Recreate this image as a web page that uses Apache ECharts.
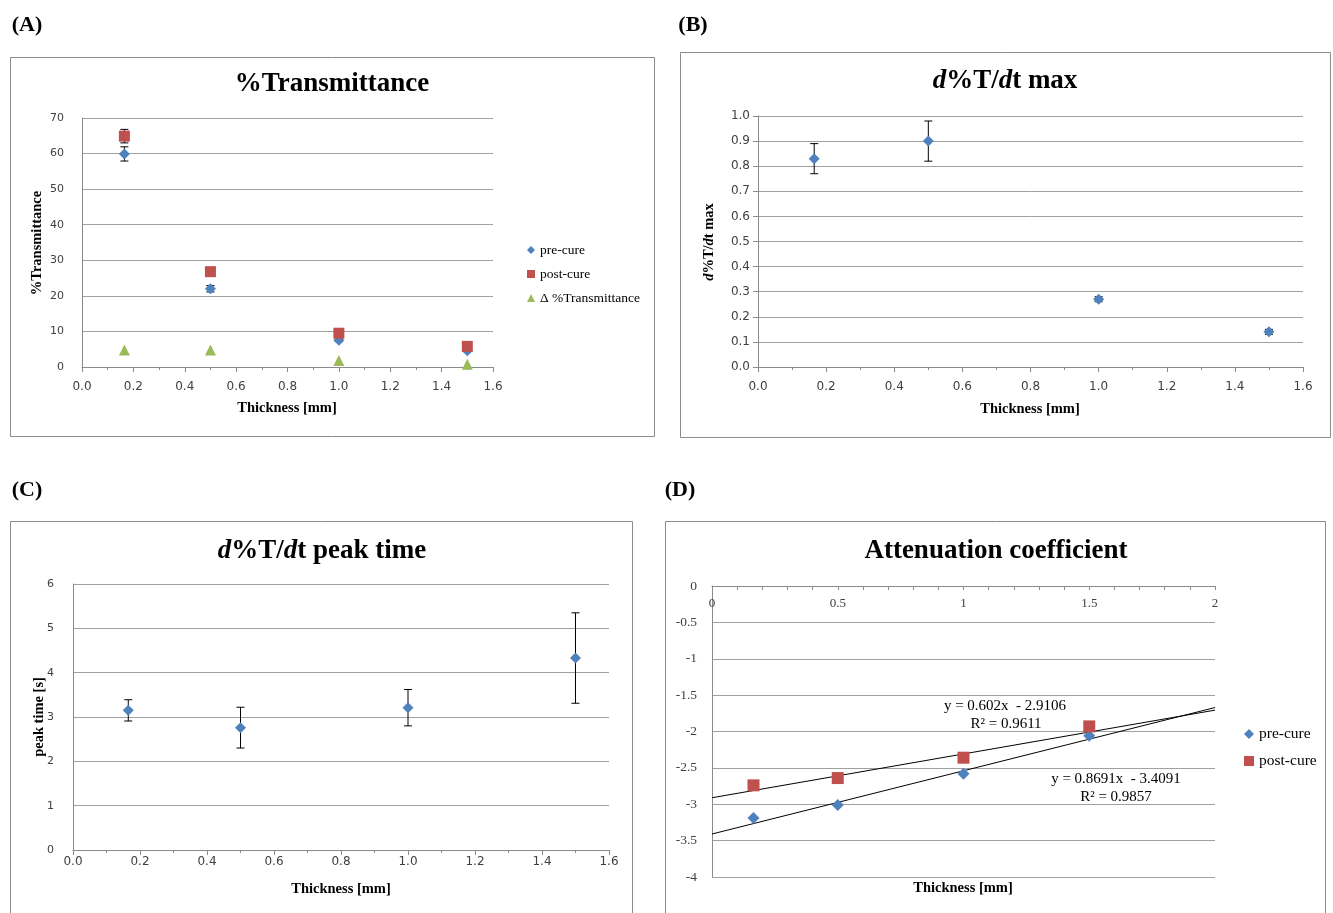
<!DOCTYPE html>
<html>
<head>
<meta charset="utf-8">
<script src="https://cdn.jsdelivr.net/npm/echarts@6/dist/echarts.min.js"></script>
<style>
html, body { margin: 0; padding: 0; background: #fff; }
#chart { width: 1333px; height: 913px; }
</style>
</head>
<body>
<div id="chart"></div>
<script>
// thickness of the samples [mm]
const thickness = [0.165, 0.5, 1.0, 1.5];

// (A) %Transmittance
const transPre = [59.9, 22.0, 7.5, 4.6];
const transPreErr = [2.0, 0.9, 0.4, 0.3];
const transPost = [64.9, 26.8, 9.5, 5.8];
const transPostErr = [1.9, 0.5, 0.4, 0.3];
const transDelta = [4.8, 4.8, 1.8, 0.8];

// (B) d%T/dt max
const slopeMax = [0.83, 0.90, 0.27, 0.14];
const slopeMaxErr = [0.06, 0.08, 0.01, 0.01];

// (C) d%T/dt peak time [s]
const peakTime = [3.15, 2.76, 3.21, 4.33];
const peakTimeErr = [0.24, 0.46, 0.41, 1.02];

// (D) attenuation coefficient (ln)
const attPre = [-3.19, -3.01, -2.58, -2.06];
const attPost = [-2.74, -2.64, -2.36, -1.93];
// trend lines (end points, from the fitted equations shown)
const attPreTrend = [[0, -3.4091], [2, -1.6709]];
const attPostTrend = [[0, -2.9106], [2, -1.7066]];

const serif = '"Liberation Serif", "Times New Roman", serif';
const sans = '"DejaVu Sans", sans-serif';
const gridGray = '#a0a0a0';
const axisGray = '#8a8a8a';
const blue = '#4F81BD';
const red = '#C0504D';
const green = '#9BBB59';

const chart = echarts.init(document.getElementById('chart'));

// x axis 0 - 1.6 for panels A, B, C
function thickAxis(grid, margin) {
  return {
    type: 'value', gridIndex: grid, min: 0, max: 1.6, interval: 0.2,
    axisLine: { show: true, onZero: false, lineStyle: { color: axisGray } },
    axisTick: { show: true, length: 5, lineStyle: { color: axisGray } },
    minorTick: { show: true, splitNumber: 2, length: 3, lineStyle: { color: axisGray } },
    axisLabel: { fontFamily: sans, fontSize: 12, color: '#404040', margin: margin,
      formatter: v => v.toFixed(1) },
    splitLine: { show: false }
  };
}

function valueAxis(grid, min, max, step, digits, margin, size, ticks) {
  return {
    type: 'value', gridIndex: grid, min: min, max: max, interval: step,
    axisLine: { show: true, lineStyle: { color: axisGray } },
    axisTick: { show: ticks, length: 5, lineStyle: { color: axisGray } },
    axisLabel: { fontFamily: sans, fontSize: size, color: '#404040', margin: margin,
      formatter: v => v.toFixed(digits) },
    splitLine: { show: true, lineStyle: { color: gridGray } }
  };
}

// vertical error bars with caps
function errorBars(name, ys, errs, idx) {
  return {
    name: name,
    type: 'custom',
    xAxisIndex: idx,
    yAxisIndex: idx,
    z: 2,
    silent: true,
    renderItem: function (params, api) {
      const top = api.coord([api.value(0), api.value(2)]);
      const bot = api.coord([api.value(0), api.value(1)]);
      const w = 4;
      const st = { stroke: '#000', lineWidth: 1 };
      return {
        type: 'group',
        children: [
          { type: 'line', shape: { x1: top[0], y1: top[1], x2: bot[0], y2: bot[1] }, style: st },
          { type: 'line', shape: { x1: top[0] - w, y1: top[1], x2: top[0] + w, y2: top[1] }, style: st },
          { type: 'line', shape: { x1: bot[0] - w, y1: bot[1], x2: bot[0] + w, y2: bot[1] }, style: st }
        ]
      };
    },
    encode: { x: 0, y: [1, 2] },
    data: thickness.map((x, i) => [x, ys[i] - errs[i], ys[i] + errs[i]])
  };
}

function dots(name, ys, idx, symbol, size, color) {
  return {
    name: name,
    type: 'scatter',
    xAxisIndex: idx,
    yAxisIndex: idx,
    z: 3,
    symbol: symbol,
    symbolSize: size,
    itemStyle: { color: color, opacity: 1 },
    emphasis: { disabled: true },
    data: thickness.map((x, i) => [x, ys[i]])
  };
}

function txt(x, y, text, size, opts) {
  opts = opts || {};
  return {
    type: 'text', x: x, y: y, rotation: opts.rotation || 0, z: 10,
    style: {
      text: text, fontFamily: serif, fontSize: size,
      fontWeight: opts.bold ? 'bold' : 'normal',
      fill: '#000', align: opts.align || 'center', verticalAlign: 'middle',
      rich: opts.rich
    }
  };
}

function frame(x, y, w, h) {
  return { type: 'rect', shape: { x: x + 0.5, y: y + 0.5, width: w, height: h }, z: 0,
    style: { fill: 'none', stroke: '#8c8c8c', lineWidth: 1 } };
}

const richItalic = size => ({ i: { fontStyle: 'italic', fontWeight: 'bold', fontFamily: serif, fontSize: size, fill: '#000' } });

const option = {
  animation: false,
  backgroundColor: '#fff',
  grid: [
    { left: 82, top: 118, width: 411, height: 249 },
    { left: 758, top: 116, width: 545, height: 251 },
    { left: 73, top: 584, width: 536, height: 266 },
    { left: 712, top: 586, width: 503, height: 291 }
  ],
  xAxis: [
    thickAxis(0, 14),
    thickAxis(1, 14),
    thickAxis(2, 6),
    {
      type: 'value', gridIndex: 3, min: 0, max: 2, interval: 0.5, position: 'top',
      axisLine: { show: true, onZero: false, lineStyle: { color: axisGray } },
      axisTick: { show: true, inside: true, length: 4, lineStyle: { color: axisGray } },
      minorTick: { show: true, splitNumber: 5, length: 4, lineStyle: { color: axisGray } },
      axisLabel: { inside: true, fontFamily: serif, fontSize: 13, color: '#404040', margin: 11 },
      splitLine: { show: false }
    }
  ],
  yAxis: [
    valueAxis(0, 0, 70, 10, 0, 18, 11, false),
    valueAxis(1, 0, 1.0, 0.1, 1, 8, 12, true),
    valueAxis(2, 0, 6, 1, 0, 19, 11, false),
    {
      type: 'value', gridIndex: 3, min: -4, max: 0, interval: 0.5,
      axisLine: { show: true, lineStyle: { color: axisGray } },
      axisTick: { show: false },
      axisLabel: { fontFamily: serif, fontSize: 13.5, color: '#404040', margin: 15 },
      splitLine: { show: true, lineStyle: { color: gridGray } }
    }
  ],
  legend: [
    {
      data: ['pre-cure', 'post-cure', 'Δ %Transmittance'],
      orient: 'vertical', left: 522, top: 238, itemWidth: 8, itemHeight: 8, itemGap: 10,
      selectedMode: false,
      textStyle: { fontFamily: serif, fontSize: 13.5, color: '#000' }
    },
    {
      data: ['pre-cure', 'post-cure'],
      orient: 'vertical', left: 1239, top: 721, itemWidth: 10, itemHeight: 10, itemGap: 11,
      selectedMode: false,
      textStyle: { fontFamily: serif, fontSize: 15.5, color: '#000' }
    }
  ],
  series: [
    errorBars('errA1', transPre, transPreErr, 0),
    errorBars('errA2', transPost, transPostErr, 0),
    dots('pre-cure', transPre, 0, 'diamond', 11, blue),
    dots('post-cure', transPost, 0, 'rect', 11, red),
    dots('Δ %Transmittance', transDelta, 0, 'triangle', 11, green),

    errorBars('errB', slopeMax, slopeMaxErr, 1),
    dots('max', slopeMax, 1, 'diamond', 11, blue),

    errorBars('errC', peakTime, peakTimeErr, 2),
    dots('peak', peakTime, 2, 'diamond', 11, blue),

    {
      name: 'trendPost', type: 'line', xAxisIndex: 3, yAxisIndex: 3, z: 2,
      showSymbol: false, silent: true, data: attPostTrend,
      lineStyle: { color: '#000', width: 1 }
    },
    {
      name: 'trendPre', type: 'line', xAxisIndex: 3, yAxisIndex: 3, z: 2,
      showSymbol: false, silent: true, data: attPreTrend,
      lineStyle: { color: '#000', width: 1 }
    },
    dots('pre-cure', attPre, 3, 'diamond', 12, blue),
    dots('post-cure', attPost, 3, 'rect', 12, red)
  ],
  graphic: [
    frame(10, 57, 644, 379),
    frame(680, 52, 650, 385),
    frame(10, 521, 622, 420),
    frame(665, 521, 660, 420),

    txt(27, 25, '(A)', 22, { bold: true }),
    txt(693, 25, '(B)', 22, { bold: true }),
    txt(27, 490, '(C)', 22, { bold: true }),
    txt(680, 490, '(D)', 22, { bold: true }),

    txt(332, 84, '%Transmittance', 27, { bold: true }),
    txt(1005, 81, '{i|d}%T/{i|d}t max', 27, { bold: true, rich: richItalic(27) }),
    txt(322, 551, '{i|d}%T/{i|d}t peak time', 27, { bold: true, rich: richItalic(27) }),
    txt(996, 551, 'Attenuation coefficient', 27, { bold: true }),

    txt(287, 408, 'Thickness [mm]', 14.5, { bold: true }),
    txt(1030, 409, 'Thickness [mm]', 14.5, { bold: true }),
    txt(341, 889, 'Thickness [mm]', 14.5, { bold: true }),
    txt(963, 888, 'Thickness [mm]', 14.5, { bold: true }),

    txt(37, 243, '%Transmittance', 14.5, { bold: true, rotation: Math.PI / 2 }),
    txt(709, 242, '{i|d}%T/{i|d}t max', 14.5, { bold: true, rotation: Math.PI / 2, rich: richItalic(14.5) }),
    txt(39, 717, 'peak time [s]', 14.5, { bold: true, rotation: Math.PI / 2 }),

    txt(1005, 706, 'y = 0.602x  - 2.9106', 15, {}),
    txt(1006, 724, 'R² = 0.9611', 15, {}),
    txt(1116, 779, 'y = 0.8691x  - 3.4091', 15, {}),
    txt(1116, 797, 'R² = 0.9857', 15, {})
  ]
};

chart.setOption(option);
window.addEventListener('resize', () => {
  chart.resize();
});
</script>
</body>
</html>
